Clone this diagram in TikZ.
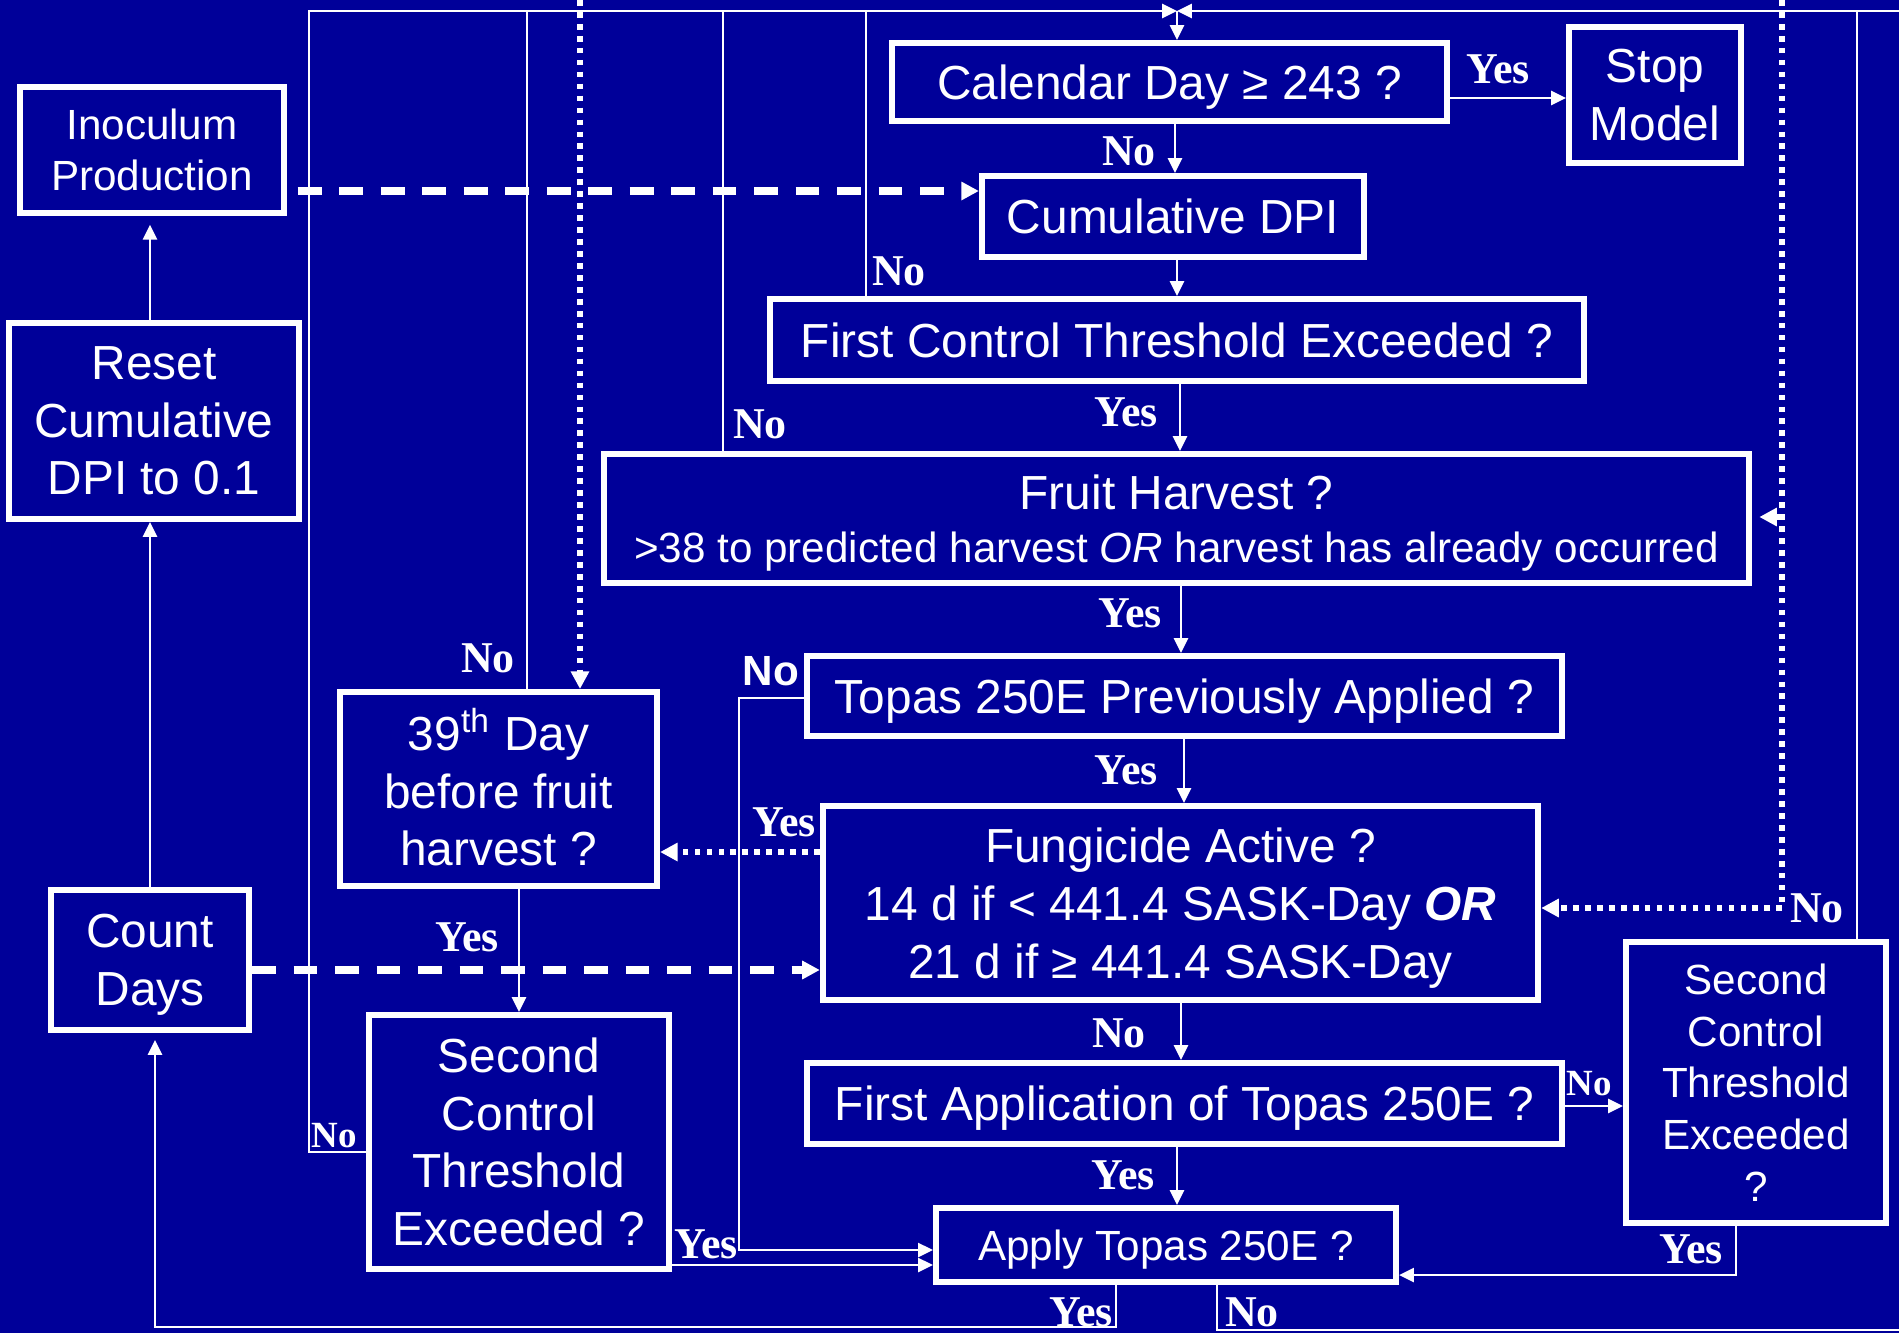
\documentclass[tikz,border=0pt]{standalone}
\usepackage{fontspec}
\setmainfont{Liberation Sans}
\newfontfamily\timesfont{Liberation Serif}
\usetikzlibrary{arrows.meta,positioning}
\definecolor{slideblue}{RGB}{0,0,153}

\begin{document}
\begin{tikzpicture}[
  x=0.01cm, y=-0.01cm,
  box/.style={draw=white, line width=1.7pt, text=white, align=center, inner sep=0pt, font=\fontsize{13.6}{16.4}\selectfont},
  smallbox/.style={box, font=\fontsize{12}{14.7}\selectfont},
  lowtext/.style={text depth=0pt},
  link/.style={draw=white, line width=0.6pt},
  arr/.style={link, -{Triangle[length=4.2pt,width=4pt]}},
  dasharr/.style={draw=white, line width=2pt, dash pattern=on 6.8pt off 5pt, -{Triangle[length=5pt,width=5pt]}},
  dotline/.style={draw=white, line width=1.6pt, dash pattern=on 1.6pt off 1.8pt},
  dotarr/.style={dotline, -{Triangle[length=5pt,width=5pt]}},
  lbl/.style={text=white, inner sep=0pt, font=\timesfont\bfseries\fontsize{12.5}{14}\selectfont},
  smalllbl/.style={lbl, font=\timesfont\bfseries\fontsize{10.5}{12}\selectfont}
]
\useasboundingbox (0,0) rectangle (1899,1333);
\fill[slideblue] (0,0) rectangle (1899,1333);

% boxes
\node[box, lowtext, minimum width=5.55cm, minimum height=0.78cm] (cal) at (1169.5,82) {Calendar Day ≥ 243 ?};
\node[box, minimum width=1.72cm, minimum height=1.36cm] (stop) at (1655,95) {Stop\\Model};
\node[smallbox, minimum width=2.64cm, minimum height=1.26cm] (inoc) at (152,150) {Inoculum\\Production};
\node[box, minimum width=3.82cm, minimum height=0.81cm] (cdpi) at (1173,216.5) {Cumulative DPI};
\node[box, minimum width=8.14cm, minimum height=0.82cm] (fct) at (1177,340) {First Control Threshold Exceeded ?};
\node[box, minimum width=2.90cm, minimum height=1.96cm] (reset) at (154,421) {Reset\\Cumulative\\DPI to 0.1};
\node[box, lowtext, minimum width=11.45cm, minimum height=1.29cm] (fruit) at (1176.5,518.5) {Fruit Harvest ?\\[-1.5pt]{\fontsize{12}{14}\selectfont >38 to predicted harvest \textit{OR} harvest has already occurred}};
\node[box, lowtext, minimum width=7.55cm, minimum height=0.80cm] (prev) at (1184.5,696) {Topas 250E Previously Applied ?};
\node[box, text depth=1.2pt, minimum width=3.17cm, minimum height=1.94cm] (d39) at (498.5,789) {39\textsuperscript{th} Day\\before fruit\\harvest ?};
\node[box, lowtext, minimum width=7.15cm, minimum height=1.94cm] (fung) at (1180.5,903) {Fungicide Active ?\\14 d if < 441.4 SASK-Day \textbf{\textit{OR}}\\21 d if ≥ 441.4 SASK-Day};
\node[box, lowtext, minimum width=1.98cm, minimum height=1.40cm] (count) at (150,960) {Count\\Days};
\node[box, minimum width=3.00cm, minimum height=2.54cm] (scl) at (519,1142) {Second\\Control\\Threshold\\Exceeded ?};
\node[smallbox, minimum width=2.60cm, minimum height=2.81cm] (scr) at (1756,1082.5) {Second\\Control\\Threshold\\Exceeded\\?};
\node[box, lowtext, minimum width=7.55cm, minimum height=0.81cm] (firstapp) at (1184.5,1103.5) {First Application of Topas 250E ?};
\node[smallbox, lowtext, minimum width=4.60cm, minimum height=0.74cm] (apply) at (1166,1245) {Apply Topas 250E ?};

% free ends of the loops
\coordinate (tl) at (309,11);
\coordinate (topj) at (1177,11);
\coordinate (tr) at (1899,11);
\coordinate (br) at (1899,1330);
\coordinate (bl) at (155,1327);
\coordinate (dotl) at (580,0);
\coordinate (dotr) at (1782,0);
\coordinate (dotc) at (1782,908);
\coordinate (dotf) at (1782,517);

% top bus
\draw[arr] (scl.west |- 0,1152) -| (tl) -- (topj);
\draw[arr] (tr) -- (topj);
\draw[arr] (topj) -- (cal.north -| topj);
\draw[link] (d39.north -| 527,0) -- (527,11);
\draw[link] (fruit.north -| 723,0) -- (723,11);
\draw[link] (fct.north -| 866,0) -- (866,11);
\draw[link] (scr.north -| 1857,0) -- (1857,11);

% main column
\draw[arr] (cal.south -| 1175,0) -- (cdpi.north -| 1175,0);
\draw[arr] (cdpi.south -| 1177,0) -- (fct.north -| 1177,0);
\draw[arr] (fct.south -| 1180,0) -- (fruit.north -| 1180,0);
\draw[arr] (fruit.south -| 1181,0) -- (prev.north -| 1181,0);
\draw[arr] (prev.south -| 1184,0) -- (fung.north -| 1184,0);
\draw[arr] (fung.south -| 1181,0) -- (firstapp.north -| 1181,0);
\draw[arr] (firstapp.south -| 1177,0) -- (apply.north -| 1177,0);
\draw[arr] (cal.east |- 0,98) -- (stop.west |- 0,98);

% left column
\draw[arr] (count.north -| 150,0) -- (reset.south -| 150,0);
\draw[arr, shorten >=2.5pt] (reset.north -| 150,0) -- (inoc.south -| 150,0);
\draw[arr, shorten >=2pt] (apply.south -| 1116,0) |- (bl) -- (count.south -| bl);
\draw[link] (apply.south -| 1217,0) |- (br);

% side loops
\draw[arr] (prev.west |- 0,698) -| (739,1250) -- (apply.west |- 0,1250);
\draw[arr] (scl.east |- 0,1265) -- (apply.west |- 0,1265);
\draw[arr] (d39.south -| 519,0) -- (scl.north -| 519,0);
\draw[arr] (firstapp.east |- 0,1106) -- (scr.west |- 0,1106);
\draw[arr] (scr.south -| 1736,0) |- (apply.east |- 0,1275);

% dashed and dotted
\draw[dasharr, shorten <=3pt] (inoc.east |- 0,191) -- (cdpi.west |- 0,191);
\draw[dasharr] (count.east |- 0,970) -- (fung.west |- 0,970);
\draw[dotarr] (dotl) -- (d39.north -| dotl);
\draw[dotline] (dotr) -- (dotc);
\draw[dotarr] (dotc) -- (fung.east |- dotc);
\draw[dotarr, shorten >=2pt] (dotf) -- (fruit.east |- dotf);
\draw[dotarr] (fung.west |- 0,852) -- (d39.east |- 0,852);

% labels
\node[lbl] (ystop) at (1498,69) {Yes};
\node[lbl] (ncal) at (1129,151) {No};
\node[lbl] (nfct) at (899,271) {No};
\node[lbl] (yfct) at (1126,412) {Yes};
\node[lbl] (nfruit) at (760,424) {No};
\node[lbl] (yfruit) at (1130,613) {Yes};
\node[lbl, font=\bfseries\fontsize{12}{14}\selectfont] (nprev) at (771,671) {No};
\node[lbl] (yprev) at (1126,770) {Yes};
\node[lbl] (yfung) at (784,822) {Yes};
\node[lbl] (nd39) at (488,658) {No};
\node[lbl] (yd39) at (467,937) {Yes};
\node[smalllbl] (nscl) at (334,1136) {No};
\node[lbl] (yscl) at (706,1244) {Yes};
\node[lbl] (nfung) at (1119,1033) {No};
\node[lbl] (yfirst) at (1123,1175) {Yes};
\node[smalllbl] (nfirst) at (1589,1084) {No};
\node[lbl] (ndot) at (1817,908) {No};
\node[lbl] (yscr) at (1691,1249) {Yes};
\node[lbl] (yapply) at (1081,1312) {Yes};
\node[lbl] (napply) at (1252,1312) {No};
\end{tikzpicture}
\end{document}
